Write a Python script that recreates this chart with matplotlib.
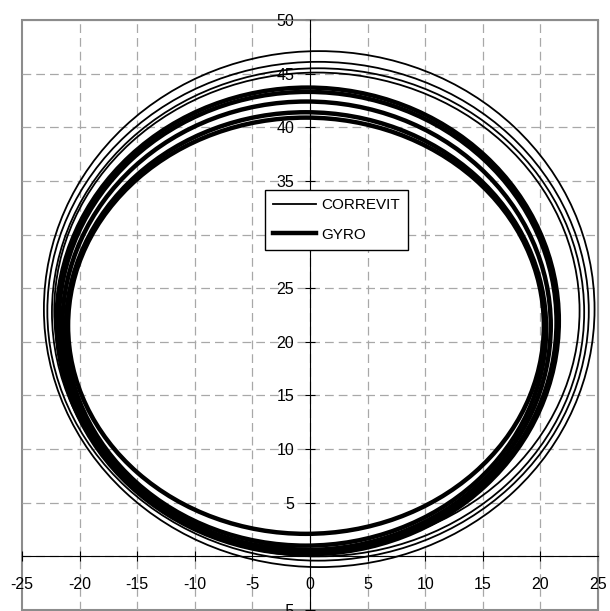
import matplotlib
matplotlib.use("Agg")
import matplotlib.pyplot as plt
from matplotlib.patches import Ellipse, Rectangle
from matplotlib.lines import Line2D

plt.rcParams['font.family'] = ['Liberation Sans', 'DejaVu Sans']
plt.rcParams['axes.unicode_minus'] = False

# loop extents (left, right, bottom, top)
correvit_left = [-23.1, -22.8, -22.4, -22.2]
correvit_right = [24.7, 24.2, 23.8, 23.4]
correvit_bottom = [-1.0, -0.4, 0.0, 0.7]
correvit_top = [47.1, 46.1, 45.5, 45.1]

gyro_left = [-22.0, -21.8, -21.5, -21.2, -21.0]
gyro_right = [21.6, 21.4, 20.9, 20.5, 20.3]
gyro_bottom = [0.2, 0.4, 0.6, 1.0, 2.1]
gyro_top = [43.7, 43.3, 42.4, 41.4, 40.9]

x_ticks = [-25, -20, -15, -10, -5, 0, 5, 10, 15, 20, 25]
y_ticks = [-5, 0, 5, 10, 15, 20, 25, 30, 35, 40, 45, 50]


def draw_loops(ax, left, right, bottom, top, lw):
    for l, r, b, t in zip(left, right, bottom, top):
        ax.add_patch(Ellipse(((l + r) / 2, (b + t) / 2), r - l, t - b,
                             fill=False, edgecolor='black', linewidth=lw, zorder=3))


fig = plt.figure(figsize=(6.10, 6.11), dpi=100)
ax = fig.add_axes([22 / 610, 1 - 610 / 611, 576 / 610, 590 / 611])

draw_loops(ax, correvit_left, correvit_right, correvit_bottom, correvit_top, 1.3)
draw_loops(ax, gyro_left, gyro_right, gyro_bottom, gyro_top, 3.2)

ax.set_xlim(-25, 25)
ax.set_ylim(-5, 50)

# dashed grid
for xv in x_ticks[1:-1]:
    ax.axvline(xv, color='#a8a8a8', linestyle=(0, (7, 4)), linewidth=0.9, zorder=1)
for yv in y_ticks[1:-1]:
    ax.axhline(yv, color='#a8a8a8', linestyle=(0, (7, 4)), linewidth=0.9, zorder=1)

# axes through the origin, grey plot-area border
ax.spines['left'].set_position(('data', 0))
ax.spines['bottom'].set_position(('data', 0))
ax.spines['left'].set_color('black')
ax.spines['bottom'].set_color('black')
ax.spines['left'].set_zorder(4)
ax.spines['bottom'].set_zorder(4)
ax.spines['top'].set_color('#8c8c8c')
ax.spines['right'].set_color('#8c8c8c')
ax.add_patch(Rectangle((0, 0), 1, 1, transform=ax.transAxes, fill=False,
                       edgecolor='#8c8c8c', linewidth=1.5, clip_on=False, zorder=0))

ax.set_xticks(x_ticks)
ax.set_yticks(y_ticks)
ax.set_yticklabels(['' if v == 0 else str(v) for v in y_ticks])
ax.tick_params(axis='both', direction='inout', length=7, width=0.8,
               labelsize=11.5, colors='black')
ax.tick_params(axis='x', pad=11)
ax.tick_params(axis='y', pad=8)

handles = [Line2D([], [], color='black', linewidth=1.3),
           Line2D([], [], color='black', linewidth=3.2)]
leg = ax.legend(handles, ['CORREVIT', 'GYRO'], loc='upper left',
                bbox_to_anchor=(0.422, 0.712), fontsize=11, frameon=True,
                fancybox=False, shadow=False, handlelength=2.8,
                handletextpad=0.3, labelspacing=1.0, borderpad=0.55,
                borderaxespad=0)
leg.get_frame().set_edgecolor('black')
leg.get_frame().set_linewidth(1.0)
leg.get_frame().set_alpha(1)
leg.set_zorder(5)

fig.savefig('out.png', dpi=100)
